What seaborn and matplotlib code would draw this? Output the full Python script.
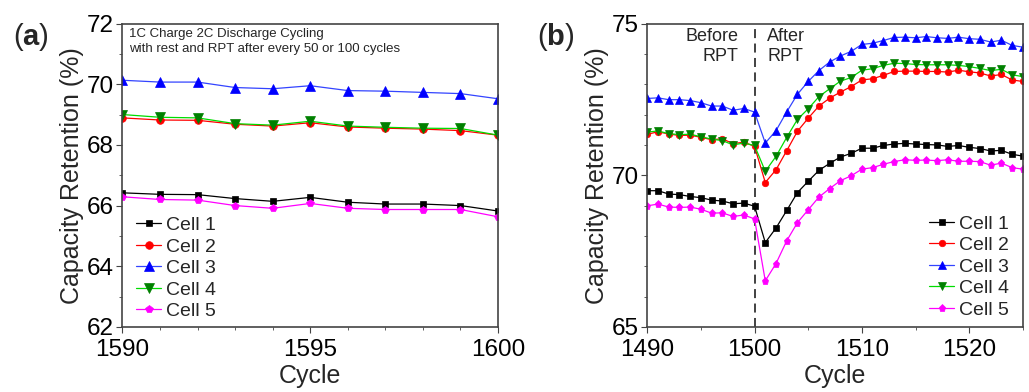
import numpy as np
import pandas as pd
import matplotlib
matplotlib.use('Agg')
import matplotlib.pyplot as plt
import seaborn as sns
from matplotlib.ticker import MultipleLocator

sns.set_style('ticks')
plt.rcParams['font.family'] = ['Liberation Sans', 'DejaVu Sans']
plt.rcParams['mathtext.fontset'] = 'custom'
plt.rcParams['mathtext.bf'] = 'Liberation Sans:bold'

# (a) 1590-1600 循环
cycle_a = list(range(1590, 1601))
a_cell1 = [66.42, 66.37, 66.36, 66.23, 66.14, 66.27, 66.11, 66.05, 66.05, 66.00, 65.82]
a_cell2 = [68.89, 68.82, 68.81, 68.68, 68.62, 68.73, 68.59, 68.55, 68.52, 68.47, 68.32]
a_cell3 = [70.13, 70.07, 70.07, 69.89, 69.85, 69.95, 69.79, 69.77, 69.73, 69.69, 69.52]
a_cell4 = [69.00, 68.91, 68.89, 68.70, 68.65, 68.78, 68.62, 68.58, 68.55, 68.54, 68.32]
a_cell5 = [66.29, 66.20, 66.18, 66.00, 65.91, 66.07, 65.91, 65.87, 65.87, 65.87, 65.63]

# (b) RPT 前后 1490-1525
cycle_b = list(range(1490, 1526))
b_cell1 = [69.49, 69.49, 69.38, 69.36, 69.30, 69.26, 69.18, 69.15, 69.06, 69.08, 68.98,
           67.78, 68.26, 68.84, 69.43, 69.80, 70.16, 70.39, 70.60, 70.72, 70.89, 70.89,
           70.98, 71.03, 71.05, 71.03, 71.01, 71.00, 70.95, 70.98, 70.92, 70.88, 70.80,
           70.82, 70.69, 70.63]
b_cell2 = [71.35, 71.43, 71.36, 71.31, 71.32, 71.25, 71.17, 71.20, 71.04, 71.09, 70.95,
           69.76, 70.18, 70.81, 71.45, 71.88, 72.28, 72.54, 72.74, 72.92, 73.14, 73.18,
           73.29, 73.42, 73.43, 73.43, 73.42, 73.42, 73.40, 73.46, 73.41, 73.37, 73.27,
           73.32, 73.14, 73.09]
b_cell3 = [72.53, 72.55, 72.49, 72.49, 72.46, 72.39, 72.28, 72.28, 72.14, 72.20, 72.08,
           71.06, 71.47, 72.09, 72.67, 73.09, 73.45, 73.73, 73.93, 74.08, 74.31, 74.35,
           74.44, 74.54, 74.55, 74.53, 74.57, 74.53, 74.51, 74.55, 74.50, 74.48, 74.39,
           74.45, 74.28, 74.22]
b_cell4 = [71.42, 71.46, 71.37, 71.34, 71.35, 71.27, 71.19, 71.14, 71.00, 71.06, 70.98,
           70.13, 70.62, 71.25, 71.84, 72.19, 72.59, 72.85, 73.10, 73.22, 73.46, 73.51,
           73.62, 73.69, 73.68, 73.65, 73.64, 73.64, 73.64, 73.62, 73.58, 73.52, 73.45,
           73.49, 73.31, 73.25]
b_cell5 = [68.99, 69.05, 68.95, 68.94, 68.95, 68.88, 68.75, 68.76, 68.64, 68.69, 68.56,
           66.52, 67.09, 67.84, 68.44, 68.86, 69.28, 69.56, 69.82, 69.98, 70.20, 70.25,
           70.36, 70.45, 70.51, 70.49, 70.50, 70.48, 70.51, 70.46, 70.46, 70.45, 70.33,
           70.40, 70.25, 70.20]

names = ['Cell 1', 'Cell 2', 'Cell 3', 'Cell 4', 'Cell 5']
line_colors = ['#000000', '#ff0000', '#3344ff', '#00dd00', '#ff00ff']
mk_colors = ['#000000', '#ff0000', '#0000ff', '#008000', '#ff00ff']
markers = ['s', 'o', '^', 'v', 'p']
mk_sizes = [5, 5.5, 6.5, 6.5, 6]


def draw(ax, x, series, scale=1.0):
    for i, y in enumerate(series):
        d = pd.DataFrame({'Cycle': x, 'Retention': y})
        sns.lineplot(x='Cycle', y='Retention', data=d, ax=ax, color=line_colors[i],
                     lw=0.9, marker=markers[i], markersize=mk_sizes[i] * scale,
                     markerfacecolor=mk_colors[i], markeredgecolor=mk_colors[i],
                     markeredgewidth=0.5, label=names[i])
    for s in ax.spines.values():
        s.set_color('#444444')
        s.set_linewidth(1.2)
    ax.tick_params(which='both', direction='out', top=False, right=False,
                   colors='#444444', labelcolor='black', labelsize=17.5)
    ax.tick_params(axis='y', pad=2)
    ax.tick_params(axis='x', pad=5)
    ax.tick_params(which='major', length=4)
    ax.tick_params(which='minor', length=2.5)
    ax.set_xlabel('Cycle', fontsize=18, labelpad=2)
    ax.set_ylabel('Capacity Retention (%)', fontsize=18, labelpad=2)


fig = plt.figure(figsize=(10.29, 3.92), dpi=100)
ax1 = fig.add_axes([0.119, 0.166, 0.365, 0.774])
ax2 = fig.add_axes([0.629, 0.166, 0.365, 0.774])

draw(ax1, cycle_a, [a_cell1, a_cell2, a_cell3, a_cell4, a_cell5])
ax1.set_xlim(1590, 1600)
ax1.set_ylim(62, 72)
ax1.xaxis.set_major_locator(MultipleLocator(5))
ax1.xaxis.set_minor_locator(MultipleLocator(1))
ax1.yaxis.set_major_locator(MultipleLocator(2))
ax1.yaxis.set_minor_locator(MultipleLocator(1))
ax1.legend(loc='lower left', bbox_to_anchor=(-0.01, -0.035), frameon=False, fontsize=14,
           handlelength=1.3, handletextpad=0.25, labelspacing=0.2)
ax1.text(0.018, 0.985, '1C Charge 2C Discharge Cycling\nwith rest and RPT after every 50 or 100 cycles',
         transform=ax1.transAxes, ha='left', va='top', fontsize=9.5, linespacing=1.3)

draw(ax2, cycle_b, [b_cell1, b_cell2, b_cell3, b_cell4, b_cell5], scale=0.85)
ax2.set_xlim(1490, 1525)
ax2.set_ylim(65, 75)
ax2.xaxis.set_major_locator(MultipleLocator(10))
ax2.xaxis.set_minor_locator(MultipleLocator(5))
ax2.yaxis.set_major_locator(MultipleLocator(5))
ax2.yaxis.set_minor_locator(MultipleLocator(1))
ax2.axvline(1500, color='#333333', ls=(0, (5, 3)), lw=1.3, zorder=0)
ax2.legend(loc='lower right', bbox_to_anchor=(1.01, -0.03), frameon=False, fontsize=14,
           handlelength=1.3, handletextpad=0.25, labelspacing=0.2)
ax2.text(1498.5, 74.85, 'Before\nRPT', ha='right', va='top', fontsize=13, linespacing=1.2)
ax2.text(1501.2, 74.85, 'After\nRPT', ha='left', va='top', fontsize=13, linespacing=1.2)

fig.text(0.013, 0.905, r'($\mathbf{a}$)', fontsize=21, ha='left', va='center')
fig.text(0.522, 0.905, r'($\mathbf{b}$)', fontsize=21, ha='left', va='center')

fig.savefig('out.png', dpi=100)
